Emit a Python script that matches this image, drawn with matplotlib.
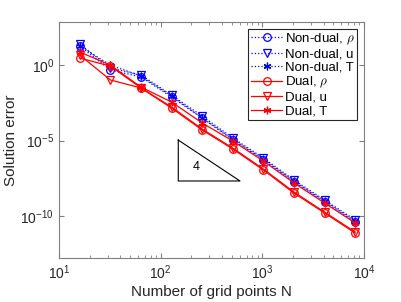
import numpy as np
import matplotlib
matplotlib.use("Agg")
import matplotlib.pyplot as plt

plt.rcParams['font.family'] = ['Liberation Sans', 'DejaVu Sans']
plt.rcParams['mathtext.fontset'] = 'cm'

# grid sizes
N = [16, 32, 64, 128, 256, 512, 1024, 2048, 4096, 8192]

# log10 of solution error
nondual_rho = [1.26, -0.33, -0.79, -2.12, -3.51, -4.97, -6.29, -7.75, -9.07, -10.40]
nondual_u = [1.39, -0.20, -0.66, -1.99, -3.38, -4.83, -6.16, -7.62, -8.94, -10.26]
nondual_T = [1.26, 0.00, -0.73, -2.05, -3.51, -4.90, -6.23, -7.68, -9.01, -10.33]
dual_rho = [0.46, -0.07, -1.52, -2.85, -4.30, -5.56, -6.95, -8.48, -9.80, -11.13]
dual_u = [0.66, -0.99, -1.52, -2.78, -4.24, -5.50, -6.89, -8.41, -9.74, -11.06]
dual_T = [0.86, 0.00, -1.46, -2.45, -3.84, -5.03, -6.36, -7.81, -9.14, -10.46]

# slope triangle (x, log10 y)
tri_x = [149, 149, 603, 149]
tri_y = [-4.97, -7.68, -7.68, -4.97]
tri_label = "4"

fig = plt.figure(figsize=(4.02, 3.02), dpi=100)
ax = fig.add_axes([59/402, 1-258.3/302, 305/402, 236.3/302])

star = (6, 2, 0)  # matlab-like asterisk
series = [
    (nondual_rho, 'b', ':', 'o', r'Non-dual, $\rho$'),
    (nondual_u, 'b', ':', 'v', 'Non-dual, u'),
    (nondual_T, 'b', ':', star, 'Non-dual, T'),
    (dual_rho, 'r', '-', 'o', r'Dual, $\rho$'),
    (dual_u, 'r', '-', 'v', 'Dual, u'),
    (dual_T, 'r', '-', star, 'Dual, T'),
]
for vals, c, ls, m, lab in series:
    ax.plot(N, 10.0**np.array(vals), color=c, ls=ls, marker=m, mfc='none',
            mec=c, ms=5.5, lw=0.9, mew=0.9, label=lab)

ax.plot(tri_x, 10.0**np.array(tri_y), color='k', lw=0.8)
ax.text(222, 10**-6.73, tri_label, ha='center', va='center', fontsize=9)

ax.set_xscale('log')
ax.set_yscale('log')
ax.set_xlim(10, 1e4)
ax.set_ylim(10**-12.8, 10**2.85)
ax.set_yticks([1e-10, 1e-5, 1e0])
ax.yaxis.set_minor_locator(matplotlib.ticker.NullLocator())

gray = '#808080'
for s in ax.spines.values():
    s.set_color(gray)
ax.tick_params(which='both', direction='in', top=True, right=True,
               colors='#262626', labelsize=10)
ax.tick_params(which='major', length=3.5, color=gray)
ax.tick_params(which='minor', length=2, color=gray)

ax.set_xlabel('Number of grid points N', fontsize=11, color='#262626', labelpad=2)
ax.set_ylabel('Solution error', fontsize=11, color='#262626', labelpad=2)

leg = ax.legend(loc='upper right', fontsize=9.5, fancybox=False, framealpha=1,
                edgecolor='#262626', handlelength=2.4, handletextpad=0.2,
                borderpad=0.2, labelspacing=0.1, borderaxespad=0.5)
leg.get_frame().set_linewidth(0.8)

fig.savefig('out.png', dpi=100)
